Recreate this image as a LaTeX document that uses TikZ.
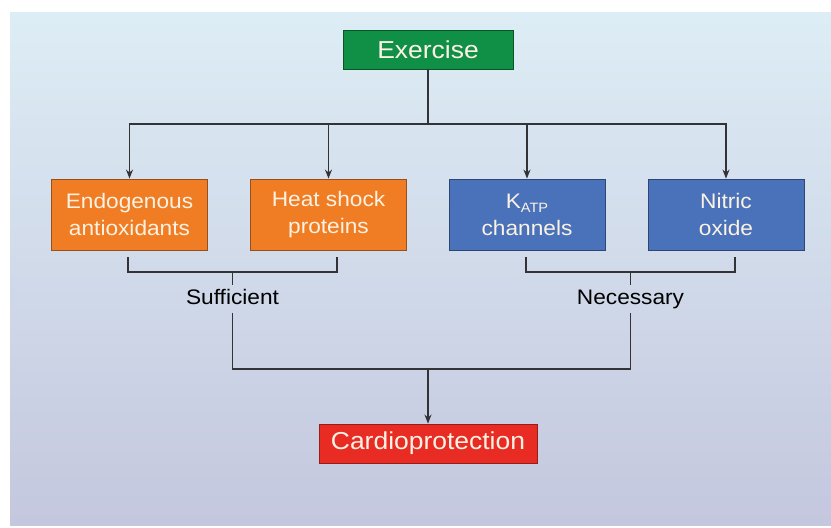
\documentclass[tikz,border=0pt]{standalone}
\usepackage{fontspec}
\setmainfont[FakeStretch=1.08]{Liberation Sans}
\usetikzlibrary{arrows.meta}
\definecolor{bgtop}{RGB}{221,237,245}
\definecolor{bgbot}{RGB}{196,199,222}
\definecolor{exgreen}{RGB}{16,143,70}
\definecolor{exgreenD}{RGB}{10,85,40}
\definecolor{orfill}{RGB}{240,125,35}
\definecolor{ordark}{RGB}{150,80,30}
\definecolor{blfill}{RGB}{74,114,186}
\definecolor{bldark}{RGB}{45,70,115}
\definecolor{rdfill}{RGB}{232,44,36}
\definecolor{rddark}{RGB}{150,30,25}
\definecolor{linec}{RGB}{50,50,55}
\definecolor{boxtext}{RGB}{252,242,228}
\begin{document}
\begin{tikzpicture}[x=1pt,y=-1pt,
  box/.style={draw, line width=0.9pt, text=boxtext, align=center, inner sep=0pt,
    font=\fontsize{21}{27}\selectfont},
  midbox/.style={box, minimum width=156pt, minimum height=71pt},
  endbox/.style={box, minimum height=39pt, font=\fontsize{24.5}{29}\selectfont},
  ln/.style={draw=linec, line width=1.2pt},
  arr/.style={ln, -{Stealth[length=9pt,width=7pt,inset=3pt]}},
  lab/.style={font=\fontsize{21}{26}\selectfont, text=black, inner sep=4pt,
    text height=15pt, text depth=4.5pt}]
\useasboundingbox (0,0) rectangle (831,528);
\shade[top color=bgtop, bottom color=bgbot] (10,12) rectangle (831,525);

\node[endbox, fill=exgreen, draw=exgreenD, minimum width=170pt] (ex) at (428,49.5) {Exercise};
\node[midbox, fill=orfill, draw=ordark] (endo) at (129.5,214.5) {Endogenous\\antioxidants};
\node[midbox, fill=orfill, draw=ordark] (heat) at (328.5,214.5) {Heat shock\\proteins};
\node[midbox, fill=blfill, draw=bldark] (katp) at (527,214.5) {K\raisebox{-0.35ex}{\fontsize{13.5}{14}\selectfont ATP}\\channels};
\node[midbox, fill=blfill, draw=bldark] (no) at (726,214.5) {Nitric\\oxide};
\node[endbox, fill=rdfill, draw=rddark, minimum width=218pt] (cp) at (428,443.5) {Cardioprotection};

\coordinate (hub) at (428,124);
\draw[ln] (ex.south) -- (hub);
\draw[arr] (hub) -| (endo.north);
\draw[arr] (hub) -| (heat.north);
\draw[arr] (hub) -| (katp.north);
\draw[arr] (hub) -| (no.north);

% brackets
\draw[ln] (128,257) -- (128,272) -- (337,272) -- (337,257);
\draw[ln] (232.5,272) -- (232.5,285);
\draw[ln] (526,257) -- (526,272) -- (735,272) -- (735,257);
\draw[ln] (630.5,272) -- (630.5,285);

\node[lab] (suf) at (232.5,299) {Sufficient};
\node[lab] (nec) at (630.5,299) {Necessary};

\coordinate (join) at (428,369);
\draw[ln] (suf.south) |- (join) -| (nec.south);
\draw[arr] (join) -- (cp.north);
\end{tikzpicture}
\end{document}
